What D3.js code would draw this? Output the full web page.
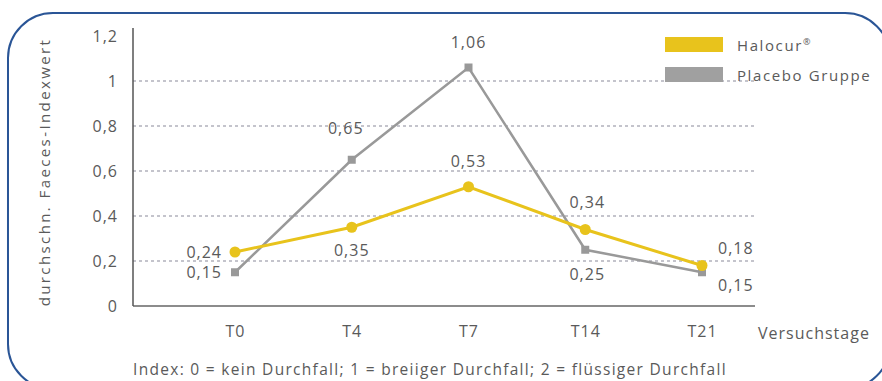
<!DOCTYPE html>
<html>
<head>
<meta charset="utf-8">
<script src="https://cdn.jsdelivr.net/npm/d3@7"></script>
<style>
  html, body { margin: 0; padding: 0; background: #fff; }
  svg { display: block; font-family: "Open Sans", sans-serif; }
  text { fill: #5a5a5a; letter-spacing: 1px; }
</style>
</head>
<body>
<svg id="chart" width="882" height="381"></svg>
<script>
// Trial days and mean faeces index per group
const days = ["T0", "T4", "T7", "T14", "T21"];
const halocur = [0.24, 0.35, 0.53, 0.34, 0.18];
const placebo = [0.15, 0.65, 1.06, 0.25, 0.15];
const yTicks = [0, 0.2, 0.4, 0.6, 0.8, 1, 1.2];
const seriesNames = ["Halocur®", "Placebo Gruppe"];

const fmt = v => String(v).replace(".", ",");

const svg = d3.select("#chart");

// rounded frame
svg.append("rect")
  .attr("x", 8).attr("y", 13).attr("width", 882).attr("height", 376)
  .attr("rx", 45).attr("ry", 45)
  .attr("fill", "none").attr("stroke", "#2a5596").attr("stroke-width", 2);

const x = d3.scalePoint().domain(days).range([235, 702]);
const y = d3.scaleLinear().domain([0, 1.2]).range([306, 36]);
const plotLeft = 133, plotRight = 755;

// dotted gridlines
svg.append("g").selectAll("line")
  .data(yTicks.filter(t => t > 0 && t < 1.2))
  .join("line")
  .attr("x1", plotLeft).attr("x2", plotRight)
  .attr("y1", d => y(d)).attr("y2", d => y(d))
  .attr("stroke", "#8a8a9a").attr("stroke-width", 1.2)
  .attr("stroke-dasharray", "3,3");

// baseline
svg.append("line")
  .attr("x1", plotLeft).attr("x2", plotRight)
  .attr("y1", y(0)).attr("y2", y(0))
  .attr("stroke", "#8c8c8c").attr("stroke-width", 2);

// y axis
const yAxis = d3.axisLeft(y).tickValues(yTicks).tickSize(0).tickPadding(15)
  .tickFormat(fmt);
const gy = svg.append("g").attr("transform", `translate(${plotLeft},0)`).call(yAxis);
gy.select(".domain").attr("stroke", "#555").attr("stroke-width", 1.5)
  .attr("d", `M0,${y(1.2) - 8}V${y(0)}`);
gy.selectAll("text").attr("font-size", 16)
  .attr("font-family", "'Open Sans', sans-serif");

// x axis labels
const xAxis = d3.axisBottom(x).tickSize(0).tickPadding(20);
const gx = svg.append("g").attr("transform", `translate(0,${y(0)})`).call(xAxis);
gx.select(".domain").remove();
gx.selectAll("text").attr("font-size", 16)
  .attr("font-family", "'Open Sans', sans-serif");

svg.append("text").attr("x", 758).attr("y", 339)
  .attr("font-size", 16).text("Versuchstage");

// y axis title
svg.append("text")
  .attr("transform", `translate(50,172) rotate(-90)`)
  .attr("text-anchor", "middle").attr("font-size", 15)
  .style("letter-spacing", "2.4px")
  .text("durchschn.  Faeces-Indexwert");

// footnote
svg.append("text").attr("x", 133).attr("y", 375)
  .attr("font-size", 15.5).style("letter-spacing", "1.3px")
  .text("Index: 0 = kein Durchfall; 1 = breiiger Durchfall; 2 = flüssiger Durchfall");

const line = d3.line().x((d, i) => x(days[i])).y(d => y(d));

// placebo series
svg.append("path").datum(placebo).attr("d", line)
  .attr("fill", "none").attr("stroke", "#999").attr("stroke-width", 2.5);
svg.append("g").selectAll("rect").data(placebo).join("rect")
  .attr("x", (d, i) => x(days[i]) - 4).attr("y", d => y(d) - 4)
  .attr("width", 8).attr("height", 8).attr("fill", "#999");

// Halocur series
svg.append("path").datum(halocur).attr("d", line)
  .attr("fill", "none").attr("stroke", "#e8c31c").attr("stroke-width", 3);
svg.append("g").selectAll("circle").data(halocur).join("circle")
  .attr("cx", (d, i) => x(days[i])).attr("cy", d => y(d))
  .attr("r", 5.5).attr("fill", "#e8c31c");

// value labels: [dx, dy, anchor] per point
const hPos = [[-13, 6, "end"], [0, 29, "middle"], [0, -20, "middle"], [2, -22, "middle"], [16, -12, "start"]];
const pPos = [[-13, 6, "end"], [-6, -26, "middle"], [0, -20, "middle"], [2, 30, "middle"], [16, 19, "start"]];

function labels(vals, pos) {
  svg.append("g").selectAll("text").data(vals).join("text")
    .attr("x", (d, i) => x(days[i]) + pos[i][0])
    .attr("y", (d, i) => y(d) + pos[i][1])
    .attr("text-anchor", (d, i) => pos[i][2])
    .attr("font-size", 16)
    .text(fmt);
}
labels(halocur, hPos);
labels(placebo, pPos);

// legend
const legend = svg.append("g");
const legColors = ["#e8c31c", "#a0a0a0"];
seriesNames.forEach((name, i) => {
  legend.append("rect").attr("x", 665).attr("y", 37 + i * 30)
    .attr("width", 58).attr("height", 15).attr("fill", legColors[i]);
  const t = legend.append("text").attr("x", 737).attr("y", 51 + i * 30)
    .attr("font-size", 15).style("letter-spacing", "1.6px");
  if (name.endsWith("®")) {
    t.text(name.slice(0, -1));
    t.append("tspan").attr("dy", -6).attr("font-size", 9).text("®");
  } else {
    t.text(name);
  }
});
</script>
</body>
</html>
